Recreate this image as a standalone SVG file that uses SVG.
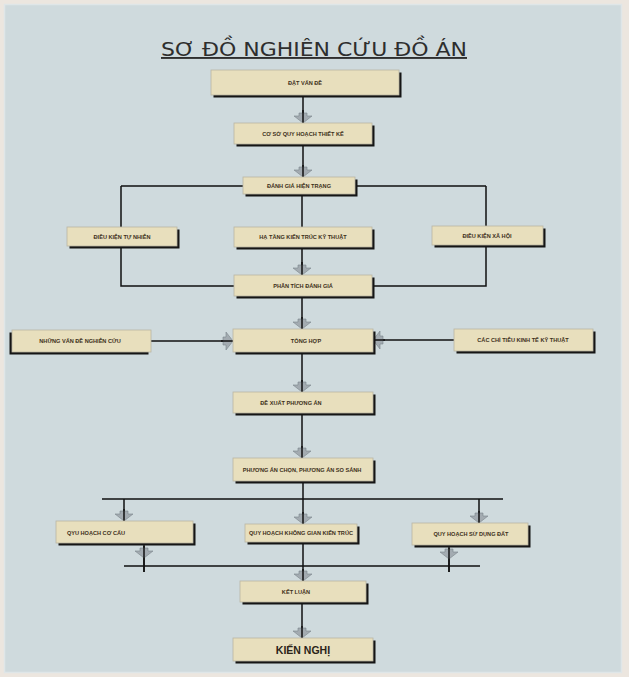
<svg xmlns="http://www.w3.org/2000/svg" xmlns:xlink="http://www.w3.org/1999/xlink" width="629" height="677" viewBox="0 0 629 677">
<style>
.bx{fill:#e8dfbd;stroke:#b9b4a4;stroke-width:0.8}
.sh{fill:#151515}
.lb{font-family:"Liberation Sans",Arial,sans-serif;font-size:5.6px;fill:#3d2f1a;text-anchor:middle;font-weight:bold}
.big{font-family:"Liberation Sans",Arial,sans-serif;font-size:10.5px;fill:#2b2418;text-anchor:middle;font-weight:bold}
.ln{fill:none;stroke:#111;stroke-width:1.5}
.title{font-family:"DejaVu Sans","Liberation Sans",sans-serif;font-size:19px;fill:#2e2e2e;text-anchor:middle;text-decoration:underline}
</style>
<defs>
<polygon id="ah" points="-4,-10 4,-10 4,-7 9,-7 0,0 -9,-7 -4,-7" fill="#a3abb1" stroke="#7b848a" stroke-width="0.6"/>
</defs>
<rect x="0" y="0" width="629" height="677" fill="#ece6df"/>
<rect x="4.5" y="4.5" width="617" height="668" fill="#cfdadd" stroke="#dfe6e8" stroke-width="1.5"/>
<text class="title" x="314" y="56" textLength="306" lengthAdjust="spacingAndGlyphs">SƠ ĐỒ NGHIÊN CỨU ĐỒ ÁN</text>

<g id="connectors">
<path class="ln" d="M303,96 V123"/>
<path class="ln" d="M303,145 V177"/>
<path class="ln" d="M121,186 H486 M121,186 V227 M486,186 V226"/>
<path class="ln" d="M302,195 V227"/>
<path class="ln" d="M302,248 V275"/>
<path class="ln" d="M121,247 V286 H234 M486,245 V286 H372"/>
<path class="ln" d="M302,297 V329"/>
<path class="ln" d="M151,341 H233"/>
<path class="ln" d="M454,340 H373"/>
<path class="ln" d="M302,353 V392"/>
<path class="ln" d="M302,414 V458"/>
<path class="ln" d="M303,482 V524"/>
<path class="ln" d="M102,499 H503 M124,499 V521 M479,499 V523"/>
<path class="ln" d="M144,544 V572 M449,546 V572 M124,566 H480"/>
<path class="ln" d="M303,543 V581"/>
<path class="ln" d="M302,603 V638"/>
<use href="#ah" transform="translate(303,123)"/>
<use href="#ah" transform="translate(303,177)"/>
<use href="#ah" transform="translate(302,275)"/>
<use href="#ah" transform="translate(302,329)"/>
<use href="#ah" transform="translate(233,341) rotate(-90)"/>
<use href="#ah" transform="translate(373,340) rotate(90)"/>
<use href="#ah" transform="translate(302,392)"/>
<use href="#ah" transform="translate(302,458)"/>
<use href="#ah" transform="translate(303,524)"/>
<use href="#ah" transform="translate(124,521)"/>
<use href="#ah" transform="translate(479,523)"/>
<use href="#ah" transform="translate(144,558)"/>
<use href="#ah" transform="translate(449,559)"/>
<use href="#ah" transform="translate(303,581)"/>
<use href="#ah" transform="translate(302,638)"/>
<path class="ln" d="M303,110 V123 M303,165 V177 M302,262 V275 M302,317 V329 M302,380 V392 M302,446 V458 M303,512 V524 M124,509 V521 M479,511 V523 M144,546 V572 M449,548 V572 M303,569 V581 M302,626 V638 M221,341 H233 M385,340 H373"/>
</g>

<g id="n1"><rect class="sh" x="213.5" y="72.5" width="188" height="25"/><rect class="bx" x="211" y="70" width="188" height="25"/><text class="lb" x="305" y="84.5">ĐẶT VẤN ĐỀ</text></g>
<g id="n2"><rect class="sh" x="236.5" y="125.5" width="138" height="21"/><rect class="bx" x="234" y="123" width="138" height="21"/><text class="lb" x="303" y="135.5">CƠ SỞ QUY HOẠCH THIẾT KẾ</text></g>
<g id="n3"><rect class="sh" x="245.5" y="179.5" width="112" height="17"/><rect class="bx" x="243" y="177" width="112" height="17"/><text class="lb" x="299" y="187.5">ĐÁNH GIÁ HIỆN TRẠNG</text></g>
<g id="n4"><rect class="sh" x="69.5" y="229.5" width="110" height="19"/><rect class="bx" x="67" y="227" width="110" height="19"/><text class="lb" x="122" y="238.5">ĐIỀU KIỆN TỰ NHIÊN</text></g>
<g id="n5"><rect class="sh" x="236.5" y="229.5" width="138" height="20"/><rect class="bx" x="234" y="227" width="138" height="20"/><text class="lb" x="303" y="239">HẠ TẦNG KIẾN TRÚC KỸ THUẬT</text></g>
<g id="n6"><rect class="sh" x="434.5" y="228.5" width="111" height="19"/><rect class="bx" x="432" y="226" width="111" height="19"/><text class="lb" x="487" y="237.5">ĐIỀU KIỆN XÃ HỘI</text></g>
<g id="n7"><rect class="sh" x="236.5" y="277.5" width="138" height="21"/><rect class="bx" x="234" y="275" width="138" height="21"/><text class="lb" x="303" y="287.5">PHÂN TÍCH ĐÁNH GIÁ</text></g>
<g id="n8"><rect class="sh" x="9.5" y="332.5" width="139" height="22"/><rect class="bx" x="12" y="330" width="139" height="22"/><text class="lb" x="80" y="343">NHỮNG VẤN ĐỀ NGHIÊN CỨU</text></g>
<g id="n9"><rect class="sh" x="235.5" y="331.5" width="140" height="23"/><rect class="bx" x="233" y="329" width="140" height="23"/><text class="lb" x="306" y="342.5">TỔNG HỢP</text></g>
<g id="n10"><rect class="sh" x="456.5" y="331.5" width="139" height="22"/><rect class="bx" x="454" y="329" width="139" height="22"/><text class="lb" x="523" y="342">CÁC CHỈ TIÊU KINH TẾ KỸ THUẬT</text></g>
<g id="n11"><rect class="sh" x="235.5" y="394.5" width="140" height="21"/><rect class="bx" x="233" y="392" width="140" height="21"/><text class="lb" x="291" y="404.5">ĐỀ XUẤT PHƯƠNG ÁN</text></g>
<g id="n12"><rect class="sh" x="235.5" y="460.5" width="140" height="23"/><rect class="bx" x="233" y="458" width="140" height="23"/><text class="lb" x="302" y="471.5">PHƯƠNG ÁN CHỌN, PHƯƠNG ÁN SO SÁNH</text></g>
<g id="n13"><rect class="sh" x="58.5" y="523.5" width="137" height="22"/><rect class="bx" x="56" y="521" width="137" height="22"/><text class="lb" x="96" y="534.5">QYU HOẠCH CƠ CẤU</text></g>
<g id="n14"><rect class="sh" x="247.5" y="526.5" width="112" height="18"/><rect class="bx" x="245" y="524" width="112" height="18"/><text class="lb" x="301" y="535">QUY HOẠCH KHÔNG GIAN KIẾN TRÚC</text></g>
<g id="n15"><rect class="sh" x="414.5" y="525.5" width="116" height="22"/><rect class="bx" x="412" y="523" width="116" height="22"/><text class="lb" x="471" y="536">QUY HOẠCH SỬ DỤNG ĐẤT</text></g>
<g id="n16"><rect class="sh" x="242.5" y="583.5" width="126" height="21"/><rect class="bx" x="240" y="581" width="126" height="21"/><text class="lb" x="296" y="593.5">KẾT LUẬN</text></g>
<g id="n17"><rect class="sh" x="235.5" y="640.5" width="140" height="23"/><rect class="bx" x="233" y="638" width="140" height="23"/><text class="big" x="303" y="653.5">KIẾN NGHỊ</text></g>
</svg>
